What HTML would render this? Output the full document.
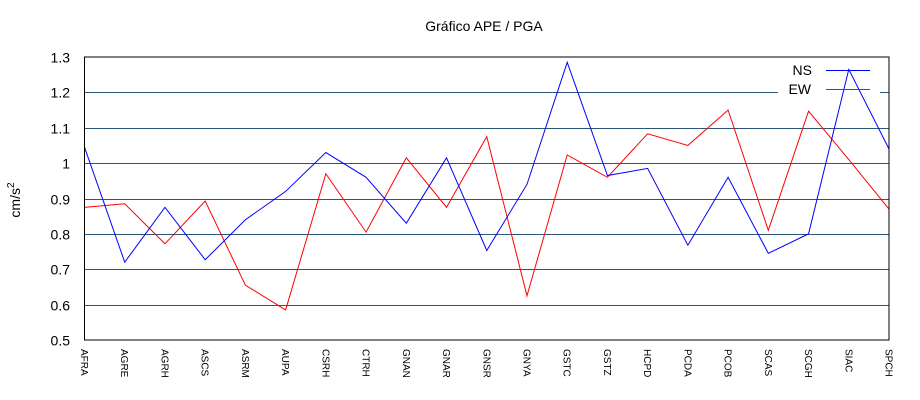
<!DOCTYPE html>
<html><head><meta charset="utf-8"><style>
body{margin:0;background:#fff;}
svg{display:block;font-family:"Liberation Sans",sans-serif;}
</style></head><body>
<svg id="c" width="920" height="400">
<text x="484" y="31" font-size="14" text-anchor="middle" fill="#000">Gráfico  APE / PGA</text>
<text transform="translate(20,200) rotate(-90)" font-size="14" text-anchor="middle">cm/s<tspan font-size="10" dy="-6">2</tspan></text>
<g id="grid"></g>
<rect x="778" y="60" width="102" height="38" fill="#fff"/>
<g id="ticks"></g><g id="xl"></g><g id="series"></g>
<rect x="84.5" y="57" width="804.5" height="283" fill="none" stroke="#000" stroke-width="1"/>
<g>
<text x="812" y="75" font-size="14" text-anchor="end">NS</text>
<line x1="826" x2="870" y1="70.5" y2="70.5" stroke="#0000ff"/>
<text x="811" y="94" font-size="14" text-anchor="end">EW</text>
<line x1="826" x2="870" y1="89.5" y2="89.5" stroke="#ff0000"/>
</g>
</svg>
<script>
const categories=["AFRA","AGRE","AGRH","ASCS","ASRM","AUPA","CSRH","CTRH","GNAN","GNAR","GNSR","GNYA","GSTC","GSTZ","HCPD","PCDA","PCOB","SCAS","SCGH","SIAC","SPCH"];
const nsValues=[1.045,0.72,0.875,0.727,0.84,0.92,1.03,0.96,0.83,1.015,0.753,0.94,1.285,0.965,0.985,0.768,0.96,0.745,0.80,1.265,1.04];
const ewValues=[0.875,0.885,0.772,0.893,0.655,0.585,0.97,0.805,1.015,0.875,1.075,0.625,1.023,0.96,1.083,1.05,1.15,0.81,1.147,1.01,0.87];
const yTicks=[0.5,0.6,0.7,0.8,0.9,1,1.1,1.2,1.3];
const yTickLabels=["0.5","0.6","0.7","0.8","0.9","1","1.1","1.2","1.3"];
const NS="http://www.w3.org/2000/svg";
const L=84.5,R=889,T=57,B=340,ymin=0.5,ymax=1.3;
function xs(i){return L+(R-L)*i/(categories.length-1);}
function ys(v){return B-(v-ymin)/(ymax-ymin)*(B-T);}
function mk(t,a,p){const e=document.createElementNS(NS,t);for(const k in a)e.setAttribute(k,a[k]);document.getElementById(p).appendChild(e);return e;}
yTicks.forEach((v,i)=>{
 const y=Math.round(ys(v))+0.5;
 if(i>0&&i<yTicks.length-1){
  const g=mk('line',{x1:L,x2:R,y1:y,y2:y,stroke:'#2c5676','stroke-width':1},'grid');
  
  
 }
 const t=mk('text',{x:70,y:y+5,'font-size':14,'text-anchor':'end'},'ticks');
 t.textContent=yTickLabels[i];
 
 
});
categories.forEach((c,i)=>{
 const x=xs(i);
 const t=mk('text',{transform:`translate(${x-3.5},349) rotate(90)`,'font-size':10},'xl');
 t.textContent=c;
 
 
});
function line(vals,col,name){
 const p=mk('polyline',{points:vals.map((v,i)=>xs(i)+','+ys(v)).join(' '),fill:'none',stroke:col,'stroke-width':1},'series');
 
 
}
line(ewValues,'#f00','series-ew');
line(nsValues,'#00f','series-ns');
</script>
</body></html>
